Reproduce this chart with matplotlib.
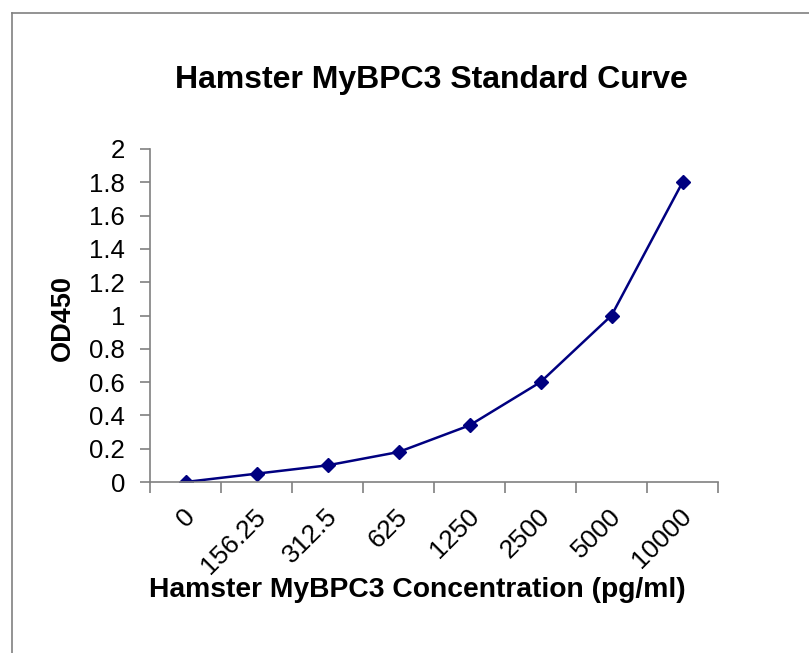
import matplotlib.pyplot as plt
from matplotlib.lines import Line2D

plt.rcParams['font.family'] = ['Liberation Sans', 'DejaVu Sans']

# Data
concentrations = ["0", "156.25", "312.5", "625", "1250", "2500", "5000", "10000"]
od450 = [0.0, 0.05, 0.1, 0.18, 0.34, 0.6, 1.0, 1.8]
y_ticks = [0, 0.2, 0.4, 0.6, 0.8, 1.0, 1.2, 1.4, 1.6, 1.8, 2.0]

W, H = 809, 653
fig = plt.figure(figsize=(W / 100, H / 100), dpi=100)
ax = fig.add_axes([150 / W, 1 - 482 / H, (718 - 150) / W, (482 - 149) / H])

# Outer chart border (top and left visible)
fig.add_artist(Line2D([12 / W, 12 / W], [0, 1 - 13 / H], transform=fig.transFigure, color='#808080', lw=1.2))
fig.add_artist(Line2D([12 / W, 1], [1 - 13 / H, 1 - 13 / H], transform=fig.transFigure, color='#808080', lw=1.2))

x = list(range(len(concentrations)))
ax.plot(x, od450, color='#000080', lw=1.8, marker='D', markersize=7.5,
        markerfacecolor='#000080', markeredgecolor='#000080')

ax.set_xlim(-0.5, len(concentrations) - 0.5)
ax.set_ylim(0, 2)

for s in ['top', 'right']:
    ax.spines[s].set_visible(False)
for s in ['left', 'bottom']:
    ax.spines[s].set_color('#808080')
    ax.spines[s].set_linewidth(1.2)

ax.set_yticks(y_ticks)
ax.set_yticklabels(['%g' % v for v in y_ticks], fontsize=18.5)
ax.tick_params(axis='y', direction='out', length=7, color='#808080', width=1.2, pad=11)

# Category ticks at boundaries, labels at centers
ax.set_xticks([i - 0.5 for i in range(len(concentrations) + 1)])
ax.set_xticklabels([])
ax.tick_params(axis='x', direction='out', length=8, color='#808080', width=1.2)
for i, lab in enumerate(concentrations):
    ax.annotate(lab, xy=(i, 0), xycoords=('data', 'axes fraction'),
                xytext=(-2, -16), textcoords='offset points',
                rotation=45, ha='right', va='top', rotation_mode='anchor', fontsize=19)

fig.text(63 / W, 1 - 318 / H, 'OD450', rotation=90,
         ha='center', va='center', fontsize=19.5, fontweight='bold')
fig.text(417 / W, 1 - 590 / H, 'Hamster MyBPC3 Concentration (pg/ml)',
         ha='center', va='center', fontsize=20.3, fontweight='bold')
fig.text(431 / W, 1 - 80 / H, 'Hamster MyBPC3 Standard Curve',
         ha='center', va='center', fontsize=23, fontweight='bold')

fig.savefig('out.png', dpi=100)
